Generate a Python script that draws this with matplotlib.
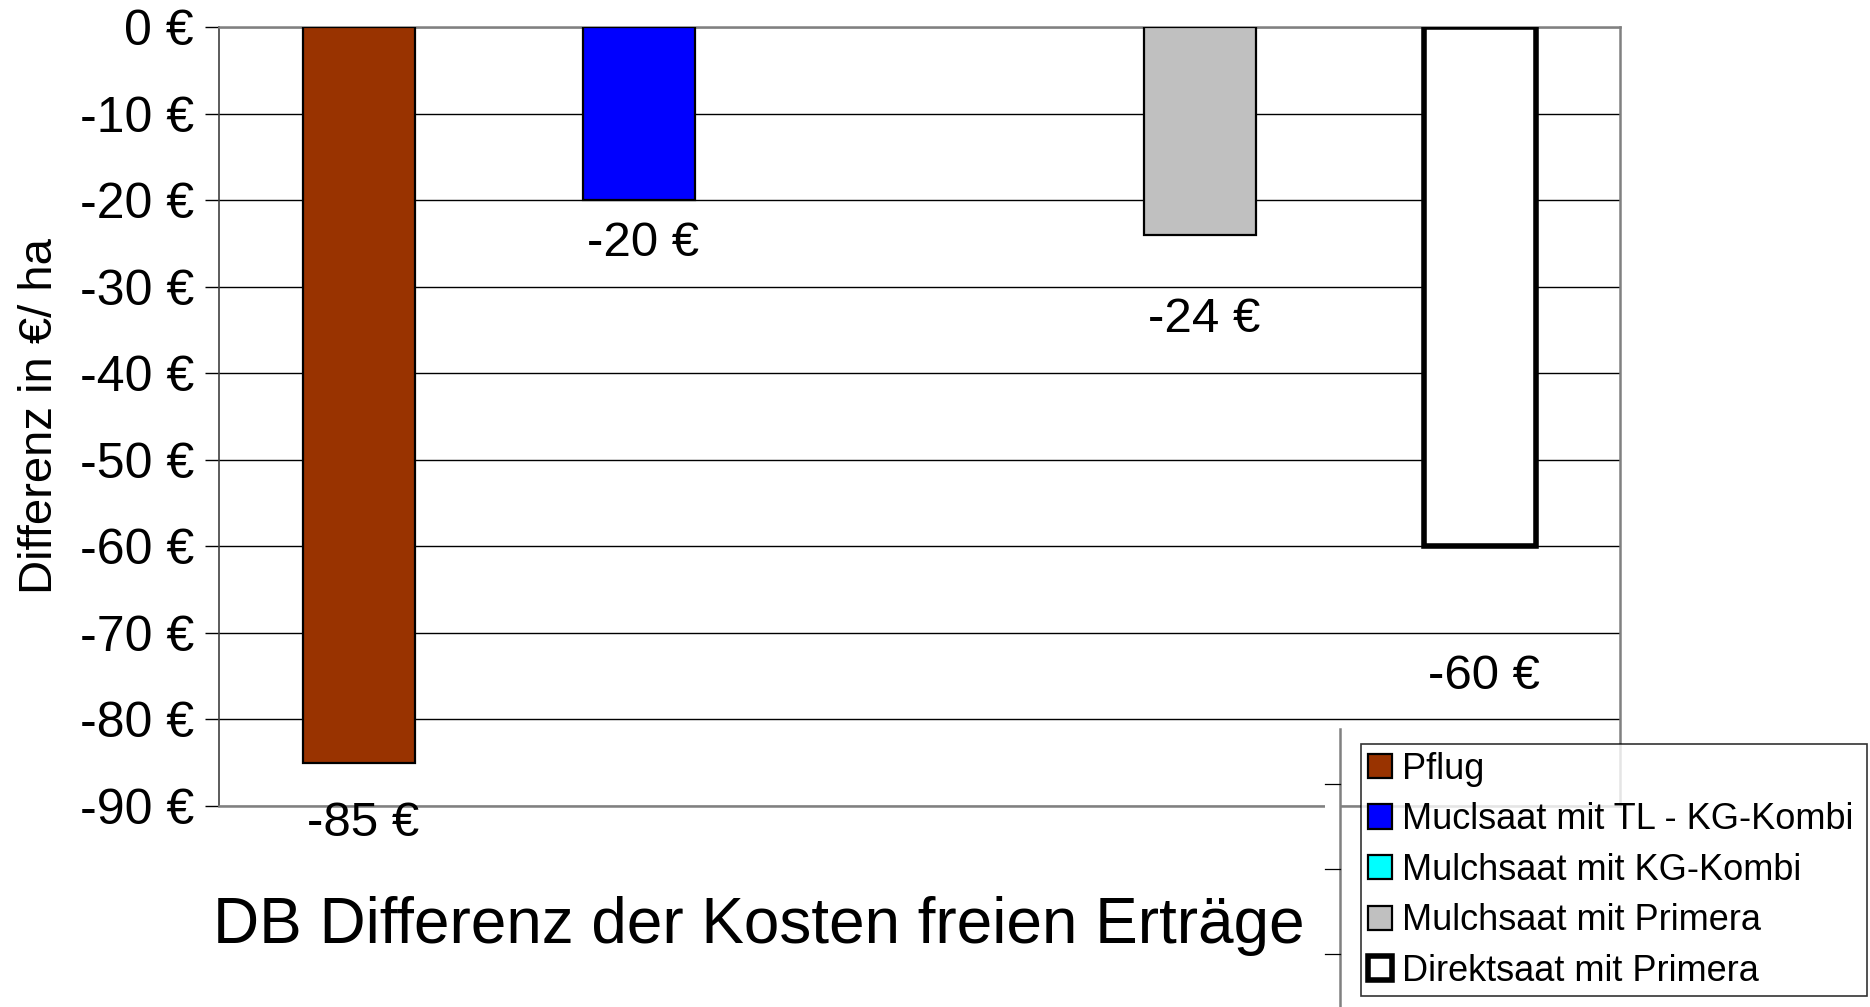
import matplotlib
matplotlib.use("Agg")
import matplotlib.pyplot as plt
from matplotlib.patches import Rectangle, Patch
from matplotlib.lines import Line2D

plt.rcParams['font.family'] = ['Liberation Sans', 'DejaVu Sans']

# Daten
serien = ["Pflug", "Muclsaat mit TL - KG-Kombi", "Mulchsaat mit KG-Kombi",
          "Mulchsaat mit Primera", "Direktsaat mit Primera"]
werte = [-85, -20, 0, -24, -60]
beschriftung = ["-85 €", "-20 €", None, "-24 €", "-60 €"]
y_ticks = [0, -10, -20, -30, -40, -50, -60, -70, -80, -90]

farben = ["#993300", "#0000ff", "#00ffff", "#c0c0c0", "#ffffff"]
randbreite = [1.6, 1.6, 1.6, 1.6, 4]
# Abstand der Werte-Beschriftung unter dem Balken (Punkte)
label_offset = [44, 31, 0, 61, 94]

W, H = 1870, 1007
fig = plt.figure(figsize=(W / 100, H / 100), dpi=100)
ax = fig.add_axes([219 / W, 1 - 806 / H, (1620 - 219) / W, (806 - 27) / H])

for i, (v, c) in enumerate(zip(werte, farben)):
    lw = randbreite[i] if v != 0 else 0
    ax.bar(i, v, width=0.4, color=c, edgecolor="black", linewidth=lw, zorder=3)
    if beschriftung[i]:
        ax.annotate(beschriftung[i], xy=(i, v), xytext=(3, -label_offset[i]),
                    textcoords="offset points", ha="center", va="center",
                    fontsize=35.5, zorder=4)

ax.set_xlim(-0.5, 4.5)
ax.set_ylim(-90, 0)
ax.set_xticks([])
ax.set_yticks(y_ticks)
ax.set_yticklabels([f"{t} €" for t in y_ticks], fontsize=36)
ax.tick_params(axis="y", length=10, width=1, color="black", pad=8)
ax.yaxis.grid(True, color="black", linewidth=1.0, zorder=1)
ax.set_axisbelow(True)
for s in ["top", "bottom", "right"]:
    ax.spines[s].set_color("#808080")
    ax.spines[s].set_linewidth(1.8)
ax.spines["left"].set_color("#404040")
ax.spines["left"].set_linewidth(1.2)
ax.set_ylabel("Differenz in €/ ha", fontsize=34, labelpad=13)

fig.text(213 / W, 1 - 943 / H, "DB Differenz der Kosten freien Erträge",
         fontsize=46, ha="left", va="baseline")

# Reste eines zweiten Diagramms links neben der Legende
fig.patches.append(Rectangle((1325 / W, 0), 15 / W, 1 - 729 / H,
                             transform=fig.transFigure, facecolor="white",
                             edgecolor="none", zorder=5))
fig.lines.append(Line2D([1340 / W, 1340 / W], [0, 1 - 729 / H],
                        transform=fig.transFigure, color="#808080", lw=1.8, zorder=6))
for ty in [784, 869, 954]:
    fig.lines.append(Line2D([1325 / W, 1340 / W], [1 - ty / H, 1 - ty / H],
                            transform=fig.transFigure, color="black", lw=0.9, zorder=6))

handles = [Patch(facecolor=c, edgecolor="black", linewidth=lw)
           for c, lw in zip(farben, randbreite)]
leg = fig.legend(handles, serien, loc="lower left",
                 bbox_to_anchor=(1361 / W, 1 - 996 / H, (1867 - 1361) / W, (996 - 742) / H),
                 mode="expand", fontsize=26, frameon=True, fancybox=False,
                 edgecolor="black", handlelength=0.65, handleheight=0.65,
                 handletextpad=0.28, labelspacing=0.43, borderpad=0.2,
                 borderaxespad=0)
leg.get_frame().set_linewidth(1.2)
leg.set_zorder(7)

fig.savefig("out.png", dpi=100)
